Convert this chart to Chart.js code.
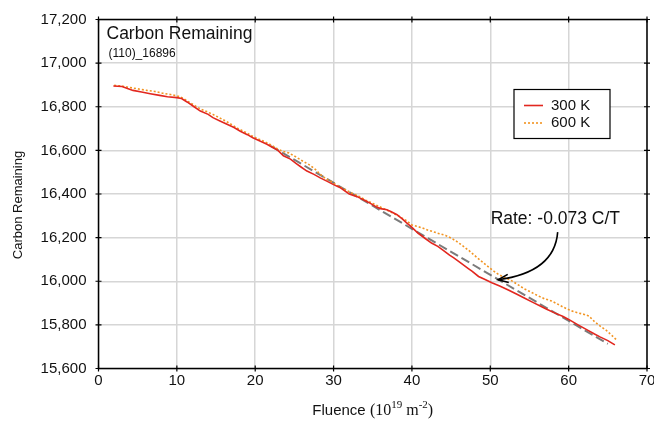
<!DOCTYPE html>
<html>
<head>
<meta charset="utf-8">
<script src="https://cdn.jsdelivr.net/npm/chart.js@4.4.1/dist/chart.umd.min.js"></script>
<style>
  html, body { margin: 0; padding: 0; background: #ffffff; }
  #wrap { width: 654px; height: 426px; position: relative; }
</style>
</head>
<body>
<div id="wrap"><canvas id="c" width="654" height="426"></canvas></div>
<script>
// ---- data ----
const chartTitle = "Carbon Remaining";
const chartSubtitle = "(110)_16896";
const yAxisTitle = "Carbon Remaining";
const xTitleParts = ["Fluence", "(10", "19", " m", "-2", ")"];
const rateText = "Rate: -0.073 C/T";

const series300Label = "300 K";
const series300X = [1.9, 3.0, 4.4, 5.5, 6.6, 7.8, 8.8, 10.0, 10.6, 11.3, 12.2, 13.0, 14.0, 14.6, 15.5, 16.4, 17.3, 18.1, 19.0, 19.7,
  20.6, 21.5, 22.0, 22.9, 23.6, 24.5, 25.2, 25.8, 26.6, 27.5, 28.3, 29.2, 30.0, 30.8, 31.2, 32.0, 33.0, 34.0, 34.7, 35.5,
  36.0, 36.8, 37.3, 38.1, 38.8, 39.4, 39.9, 40.8, 41.7, 42.5, 43.3, 44.0, 44.8, 45.3, 46.0, 47.2, 47.7, 48.5, 49.2, 50.2,
  51.2, 52.3, 53.4, 54.4, 55.5, 56.5, 57.2, 58.2, 59.3, 60.0, 61.2, 62.3, 63.3, 64.0, 65.0, 65.9];
const series300Y = [16895, 16893, 16875, 16868, 16860, 16852, 16846, 16842, 16838, 16822, 16800, 16780, 16765, 16750, 16735, 16720, 16705, 16688, 16672, 16658,
  16643, 16628, 16618, 16600, 16575, 16560, 16540, 16525, 16505, 16490, 16474, 16458, 16443, 16430, 16420, 16400, 16388, 16370, 16357, 16340,
  16333, 16328, 16320, 16305, 16285, 16265, 16250, 16220, 16196, 16175, 16160, 16142, 16120, 16108, 16090, 16058, 16045, 16022, 16010, 15993,
  15978, 15960, 15940, 15922, 15902, 15884, 15872, 15855, 15838, 15825, 15800, 15778, 15758, 15745, 15728, 15708];

const series600Label = "600 K";
const series600X = [2.0, 3.0, 4.0, 5.0, 6.2, 7.2, 8.2, 9.2, 10.0, 10.6, 11.4, 12.3, 13.0, 13.8, 14.6, 15.4, 16.2, 17.0, 17.8, 18.6,
  19.5, 20.3, 21.2, 22.0, 22.8, 23.5, 24.3, 25.2, 26.1, 27.0, 27.7, 28.3, 29.0, 29.8, 30.6, 31.5, 32.3, 33.2, 34.1, 35.0,
  35.8, 36.7, 37.6, 38.4, 39.2, 40.0, 40.6, 41.3, 42.0, 42.8, 43.5, 44.3, 45.0, 45.7, 46.5, 47.3, 48.0, 48.8, 49.6, 50.3,
  51.1, 51.8, 52.6, 53.5, 54.3, 55.1, 56.0, 56.9, 57.8, 58.6, 59.4, 60.3, 61.2, 62.0, 62.6, 63.3, 64.0, 64.8, 65.5, 66.2];
const series600Y = [16898, 16895, 16888, 16882, 16875, 16870, 16862, 16856, 16850, 16843, 16825, 16805, 16790, 16778, 16765, 16750, 16735, 16718, 16700, 16686,
  16668, 16654, 16640, 16625, 16608, 16596, 16588, 16570, 16550, 16532, 16512, 16490, 16470, 16455, 16436, 16420, 16405, 16390, 16372, 16357,
  16343, 16328, 16312, 16297, 16280, 16258, 16252, 16245, 16235, 16226, 16218, 16210, 16198, 16183, 16162, 16140, 16118, 16094, 16070, 16050,
  16030, 16018, 16005, 15985, 15966, 15952, 15935, 15920, 15910, 15895, 15880, 15865, 15855, 15848, 15840, 15815, 15795, 15775, 15752, 15728];

const fitX = [22.0, 65.0];
const fitY = [16620, 15713];

// annotation anchor points (data units)
const rateLabelAt = [58.3, 16286];
const arrowFrom = [58.6, 16225];
const arrowBend = [58.2, 16041];
const arrowTo = [51.0, 16007];

const xTicks = [0, 10, 20, 30, 40, 50, 60, 70];
const yTicks = [15600, 15800, 16000, 16200, 16400, 16600, 16800, 17000, 17200];

const toXY = (xs, ys) => xs.map((v, i) => ({ x: v, y: ys[i] }));

const RED = '#e2271f';
const ORANGE = '#f29422';
const SANS = '"Liberation Sans", Arial, sans-serif';

const decor = {
  id: 'decor',
  afterDraw(chart) {
    const { ctx, chartArea: a, scales: { x, y } } = chart;
    ctx.save();
    // frame
    ctx.strokeStyle = '#000';
    ctx.lineWidth = 1.5;
    ctx.strokeRect(a.left, a.top, a.right - a.left, a.bottom - a.top);
    // tick marks crossing the frame
    ctx.lineWidth = 1.2;
    ctx.beginPath();
    xTicks.forEach(v => {
      const px = x.getPixelForValue(v);
      ctx.moveTo(px, a.top - 3); ctx.lineTo(px, a.top + 3);
      ctx.moveTo(px, a.bottom - 3); ctx.lineTo(px, a.bottom + 3);
    });
    yTicks.forEach(v => {
      const py = y.getPixelForValue(v);
      ctx.moveTo(a.left - 3, py); ctx.lineTo(a.left + 3, py);
      ctx.moveTo(a.right - 3, py); ctx.lineTo(a.right + 3, py);
    });
    ctx.stroke();

    // y axis title (sits slightly below the plot centre in the reference)
    ctx.save();
    ctx.translate(18, (a.top + a.bottom) / 2 + 11);
    ctx.rotate(-Math.PI / 2);
    ctx.font = '13px ' + SANS;
    ctx.fillStyle = '#111';
    ctx.textAlign = 'center';
    ctx.textBaseline = 'middle';
    ctx.fillText(yAxisTitle, 0, 0);
    ctx.restore();

    // in-plot title
    ctx.fillStyle = '#111';
    ctx.textBaseline = 'middle';
    ctx.textAlign = 'left';
    ctx.font = '17.5px ' + SANS;
    ctx.fillText(chartTitle, a.left + 8, a.top + 14.5);
    ctx.font = '12px ' + SANS;
    ctx.fillText(chartSubtitle, a.left + 10, a.top + 34.5);

    // legend
    const lx = a.right - 133, ly = a.top + 70, lw = 96, lh = 49;
    ctx.fillStyle = '#fff';
    ctx.fillRect(lx, ly, lw, lh);
    ctx.strokeStyle = '#000';
    ctx.lineWidth = 1.2;
    ctx.strokeRect(lx, ly, lw, lh);
    const ds = chart.data.datasets;
    [0, 1].forEach((k, i) => {
      const yy = ly + 16 + i * 17.5;
      ctx.strokeStyle = ds[k].borderColor;
      ctx.lineWidth = 1.6;
      ctx.setLineDash(ds[k].borderDash || []);
      ctx.beginPath(); ctx.moveTo(lx + 10, yy); ctx.lineTo(lx + 29, yy); ctx.stroke();
      ctx.setLineDash([]);
      ctx.fillStyle = '#111';
      ctx.font = '15px ' + SANS;
      ctx.textBaseline = 'middle';
      ctx.fillText(ds[k].label, lx + 37, yy);
    });

    // rate annotation
    ctx.font = '17.5px ' + SANS;
    ctx.textAlign = 'center';
    ctx.fillStyle = '#111';
    ctx.fillText(rateText, x.getPixelForValue(rateLabelAt[0]), y.getPixelForValue(rateLabelAt[1]));
    const p0 = [x.getPixelForValue(arrowFrom[0]), y.getPixelForValue(arrowFrom[1])];
    const pc = [x.getPixelForValue(arrowBend[0]), y.getPixelForValue(arrowBend[1])];
    const p1 = [x.getPixelForValue(arrowTo[0]), y.getPixelForValue(arrowTo[1])];
    ctx.strokeStyle = '#000';
    ctx.lineWidth = 1.6;
    ctx.beginPath(); ctx.moveTo(p0[0], p0[1]); ctx.quadraticCurveTo(pc[0], pc[1], p1[0], p1[1]); ctx.stroke();
    const ang = Math.atan2(p1[1] - pc[1], p1[0] - pc[0]);
    const L = 11, W = 0.38;
    ctx.beginPath();
    ctx.moveTo(p1[0] - L * Math.cos(ang - W), p1[1] - L * Math.sin(ang - W));
    ctx.lineTo(p1[0], p1[1]);
    ctx.lineTo(p1[0] - L * Math.cos(ang + W), p1[1] - L * Math.sin(ang + W));
    ctx.stroke();

    // x axis title with superscripts
    const cx = (a.left + a.right) / 2;
    const by = a.bottom + 46;
    const fA = '15px ' + SANS;
    const fS = '16px "Liberation Serif", "Times New Roman", serif';
    const fSup = '11px "Liberation Serif", "Times New Roman", serif';
    const parts = [
      [xTitleParts[0] + ' ', fA, 0], [xTitleParts[1], fS, 0], [xTitleParts[2], fSup, -7],
      [xTitleParts[3], fS, 0], [xTitleParts[4], fSup, -7], [xTitleParts[5], fS, 0]
    ];
    let total = 0;
    parts.forEach(p => { ctx.font = p[1]; total += ctx.measureText(p[0]).width; });
    let cur = cx - total / 2;
    ctx.textAlign = 'left';
    ctx.textBaseline = 'alphabetic';
    ctx.fillStyle = '#111';
    parts.forEach(p => { ctx.font = p[1]; ctx.fillText(p[0], cur, by + p[2]); cur += ctx.measureText(p[0]).width; });
    ctx.restore();
  }
};

new Chart(document.getElementById('c'), {
  type: 'line',
  data: {
    datasets: [
      { label: series300Label, data: toXY(series300X, series300Y), borderColor: RED, borderWidth: 1.6, pointRadius: 0, tension: 0, fill: false },
      { label: series600Label, data: toXY(series600X, series600Y), borderColor: ORANGE, borderWidth: 1.6, borderDash: [2, 2], pointRadius: 0, tension: 0, fill: false },
      { label: 'fit', data: toXY(fitX, fitY), borderColor: 'rgba(100,100,100,0.85)', borderWidth: 2, borderDash: [9, 4], pointRadius: 0, fill: false }
    ]
  },
  options: {
    responsive: false,
    animation: false,
    devicePixelRatio: 1,
    layout: { padding: { left: 0, top: 19.5, right: 7, bottom: 0 } },
    plugins: { legend: { display: false }, tooltip: { enabled: false }, title: { display: false } },
    scales: {
      x: {
        type: 'linear', min: 0, max: 70,
        afterBuildTicks: s => { s.ticks = xTicks.map(v => ({ value: v })); },
        afterFit: s => { s.height = 57.5; s.paddingLeft = 0; s.paddingRight = 0; },
        ticks: { color: '#111', font: { size: 15, family: SANS }, padding: 3, maxRotation: 0 },
        grid: { color: '#d6d6d6', lineWidth: 1.5, drawTicks: false },
        border: { display: false },
        title: { display: false }
      },
      y: {
        type: 'linear', min: 15600, max: 17200,
        afterBuildTicks: s => { s.ticks = yTicks.map(v => ({ value: v })); },
        afterFit: s => { s.width = 98.5; s.paddingTop = 0; s.paddingBottom = 0; },
        ticks: { color: '#111', font: { size: 15, family: SANS }, padding: 12,
          callback: v => v.toLocaleString('en-US') },
        grid: { color: '#d6d6d6', lineWidth: 1.5, drawTicks: false },
        border: { display: false },
        title: { display: false, text: yAxisTitle }
      }
    }
  },
  plugins: [decor]
});
</script>
</body>
</html>
